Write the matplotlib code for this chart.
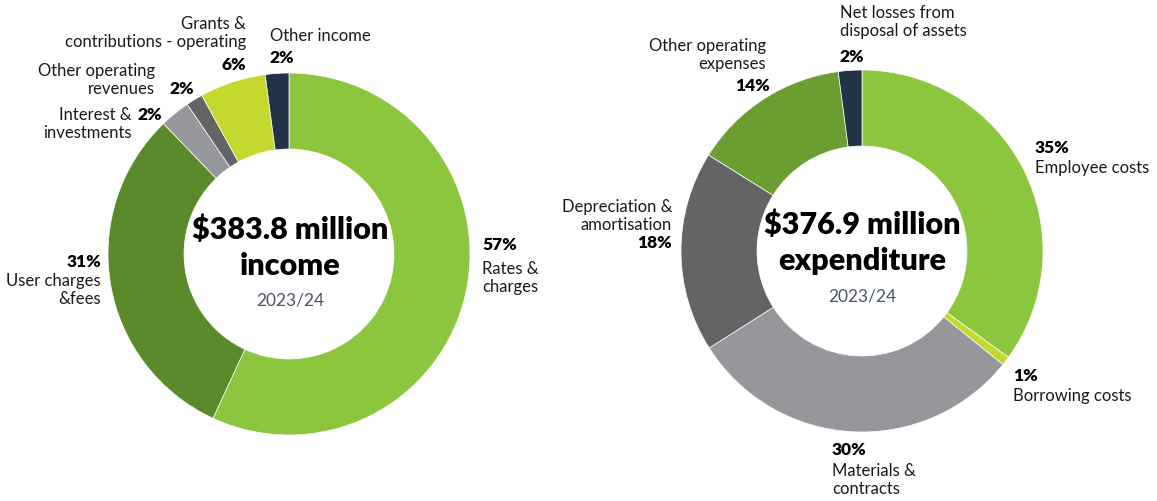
import matplotlib
matplotlib.use("Agg")
import matplotlib.pyplot as plt

# ---------------- data ----------------
income_labels = ["Rates &\ncharges", "User charges\n&fees", "Interest &\ninvestments",
                 "Other operating\nrevenues", "Grants &\ncontributions - operating", "Other income"]
income_values = [56.9, 30.9, 2.7, 1.5, 5.9, 2.1]
income_pct = ["57%", "31%", "2%", "2%", "6%", "2%"]
income_colors = ["#8CC63F", "#5A8A2A", "#96979B", "#636466", "#C4D82E", "#223247"]

exp_labels = ["Employee costs", "Borrowing costs", "Materials &\ncontracts",
              "Depreciation &\namortisation", "Other operating\nexpenses",
              "Net losses from\ndisposal of assets"]
exp_values = [35.0, 0.8, 30.2, 17.9, 14.0, 2.1]
exp_pct = ["35%", "1%", "30%", "18%", "14%", "2%"]
exp_colors = ["#8CC63F", "#C4D82E", "#96979B", "#636466", "#6A9E30", "#223247"]

titles = [("$383.8 million", "income", "2023/24"),
          ("$376.9 million", "expenditure", "2023/24")]

W, H = 1157, 501
FONT = "Lato"
plt.rcParams['font.family'] = [FONT, 'DejaVu Sans']

fig = plt.figure(figsize=(W / 100, H / 100), dpi=100)


def px_axes(cx, cy, r):
    return fig.add_axes([(cx - r) / W, (H - (cy + r)) / H, 2 * r / W, 2 * r / H])


def donut(ax, values, colors):
    ax.pie(values, colors=colors, startangle=90, counterclock=False, radius=1.0,
           wedgeprops=dict(width=0.42, edgecolor="white", linewidth=0.5))
    ax.set_xlim(-1, 1)
    ax.set_ylim(-1, 1)
    ax.set_aspect("equal")
    ax.axis("off")


def t(x, y, s, ha="left", bold=False, size=12, color="#1a1a1a", va="center", ls=1.15):
    fig.text(x / W, 1 - y / H, s, ha=ha, va=va, fontsize=size,
             fontweight="heavy" if bold else "normal",
             color="#000000" if bold else color, linespacing=ls,
             multialignment=ha if ha != "center" else "center")


ax1 = px_axes(289, 254, 181)
donut(ax1, income_values, income_colors)
ax2 = px_axes(862, 251, 181)
donut(ax2, exp_values, exp_colors)

# centre titles
for (cx, cy), (a, b, c) in zip([(290, 248), (862, 243)], titles):
    t(cx, cy - 18, a, ha="center", bold=True, size=22)
    t(cx, cy + 18, b, ha="center", bold=True, size=22)
    t(cx, cy + 53, c, ha="center", size=12.5, color="#4A5568")

# ---- income labels ----
t(482, 245, income_pct[0], bold=True, size=12.5)
t(482, 278, income_labels[0], va="center")
t(101, 262, income_pct[1], ha="right", bold=True, size=12.5)
t(101, 290, income_labels[1], ha="right")
t(132, 124, income_labels[2], ha="right")
t(137, 115, income_pct[2], bold=True, size=12.5)
t(155, 80, income_labels[3], ha="right")
t(169, 89, income_pct[3], bold=True, size=12.5)
t(246, 33, income_labels[4], ha="right")
t(246, 65, income_pct[4], ha="right", bold=True, size=12.5)
t(270, 36, income_labels[5])
t(270, 58, income_pct[5], bold=True, size=12.5)

# ---- expenditure labels ----
t(1035, 148, exp_pct[0], bold=True, size=12.5)
t(1035, 168, exp_labels[0])
t(1013, 376, exp_pct[1], bold=True, size=12.5)
t(1013, 396, exp_labels[1])
t(832, 450, exp_pct[2], bold=True, size=12.5)
t(832, 480, exp_labels[2])
t(672, 216, exp_labels[3], ha="right")
t(672, 243, exp_pct[3], ha="right", bold=True, size=12.5)
t(766, 55, exp_labels[4], ha="right")
t(770, 86, exp_pct[4], ha="right", bold=True, size=12.5)
t(840, 22, exp_labels[5])
t(840, 57, exp_pct[5], bold=True, size=12.5)

fig.savefig("out.png", dpi=100, facecolor="white")
